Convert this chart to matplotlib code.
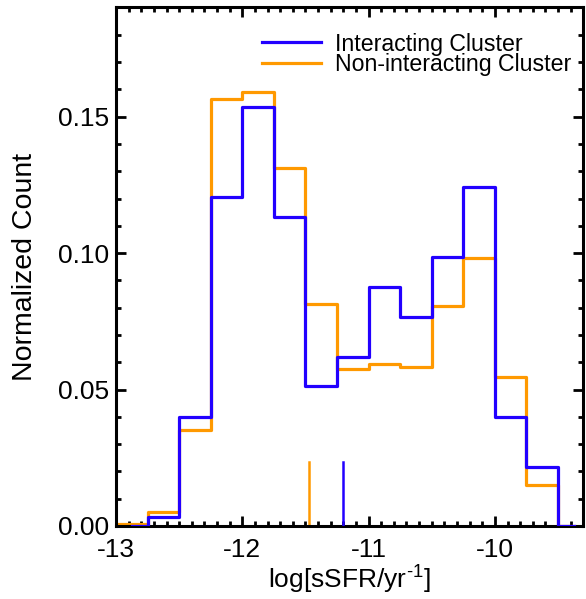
import matplotlib
matplotlib.use("Agg")
import matplotlib.pyplot as plt
import numpy as np
from matplotlib.ticker import MultipleLocator, FormatStrFormatter

plt.rcParams['font.family'] = ['Liberation Sans', 'DejaVu Sans']
plt.rcParams['mathtext.fontset'] = 'custom'
plt.rcParams['mathtext.rm'] = 'Liberation Sans'
plt.rcParams['mathtext.it'] = 'Liberation Sans'
plt.rcParams['axes.unicode_minus'] = False

# Histogram bin centres and normalized counts
blue_centers = [-12.875, -12.625, -12.375, -12.125, -11.875, -11.625, -11.375,
                -11.125, -10.875, -10.625, -10.375, -10.125, -9.875, -9.625, -9.375]
blue_counts = [0.0, 0.0033, 0.0400, 0.1207, 0.1537, 0.1133, 0.0514,
               0.0620, 0.0877, 0.0767, 0.0985, 0.1244, 0.0400, 0.0215, 0.0]

orange_centers = [-13.125, -12.875, -12.625, -12.375, -12.125, -11.875, -11.625, -11.375,
                  -11.125, -10.875, -10.625, -10.375, -10.125, -9.875, -9.625, -9.375]
orange_counts = [0.0, 0.0009, 0.0052, 0.0351, 0.1564, 0.1589, 0.1312, 0.0813,
                 0.0575, 0.0594, 0.0583, 0.0805, 0.0982, 0.0547, 0.0150, 0.0]

blue_median = -11.20
orange_median = -11.47
median_height = 0.0235

labels = ["Interacting Cluster", "Non-interacting Cluster"]
BLUE = "#2200FF"
ORANGE = "#FF9900"


def idl_step(x, y):
    """Histogram-style path like IDL psym=10 (steps at midpoints)."""
    x = np.asarray(x, float)
    y = np.asarray(y, float)
    mids = (x[:-1] + x[1:]) / 2
    px = [x[0]]
    py = [y[0]]
    for i, m in enumerate(mids):
        px += [m, m]
        py += [y[i], y[i + 1]]
    px.append(x[-1])
    py.append(y[-1])
    return px, py


fig = plt.figure(figsize=(5.86, 5.99), dpi=100)
ax = fig.add_axes([0.198, 0.1219, 0.9954 - 0.198, 0.9875 - 0.1219])

lw = 2.3
ox, oy = idl_step(orange_centers, orange_counts)
bx, by = idl_step(blue_centers, blue_counts)
ax.plot(ox, oy, color=ORANGE, lw=lw, label=labels[1], zorder=2)
ax.plot(bx, by, color=BLUE, lw=lw, label=labels[0], zorder=3)
ax.plot([orange_median, orange_median], [0, median_height], color=ORANGE, lw=1.8, zorder=2)
ax.plot([blue_median, blue_median], [0, median_height], color=BLUE, lw=1.8, zorder=3)

ax.set_xlim(-13.0, -9.3)
ax.set_ylim(0.0, 0.19)

ax.xaxis.set_major_locator(MultipleLocator(1))
ax.xaxis.set_minor_locator(MultipleLocator(0.1))
ax.yaxis.set_major_locator(MultipleLocator(0.05))
ax.yaxis.set_minor_locator(MultipleLocator(0.01))
ax.yaxis.set_major_formatter(FormatStrFormatter('%.2f'))
ax.xaxis.set_major_formatter(FormatStrFormatter('%d'))

ax.tick_params(which='both', direction='in', top=True, right=True, width=2.0)
ax.tick_params(which='major', length=7, labelsize=19)
ax.tick_params(axis='x', which='major', pad=9)
ax.tick_params(axis='y', which='major', pad=5)
ax.tick_params(which='minor', length=3.5)
for s in ax.spines.values():
    s.set_linewidth(2.2)

ax.set_xlabel(r"log[sSFR/yr$^{\text{-1}}$]", fontsize=19, labelpad=1)
ax.set_ylabel("Normalized Count", fontsize=20.5, labelpad=14.5)

h, l = ax.get_legend_handles_labels()
leg = ax.legend([h[1], h[0]], [l[1], l[0]], loc='upper right', frameon=False,
                fontsize=16.7, handlelength=2.55, handletextpad=0.6,
                labelspacing=-0.1, borderaxespad=0.3,
                bbox_to_anchor=(1.0086, 0.983))

fig.savefig("out.png", dpi=100)
